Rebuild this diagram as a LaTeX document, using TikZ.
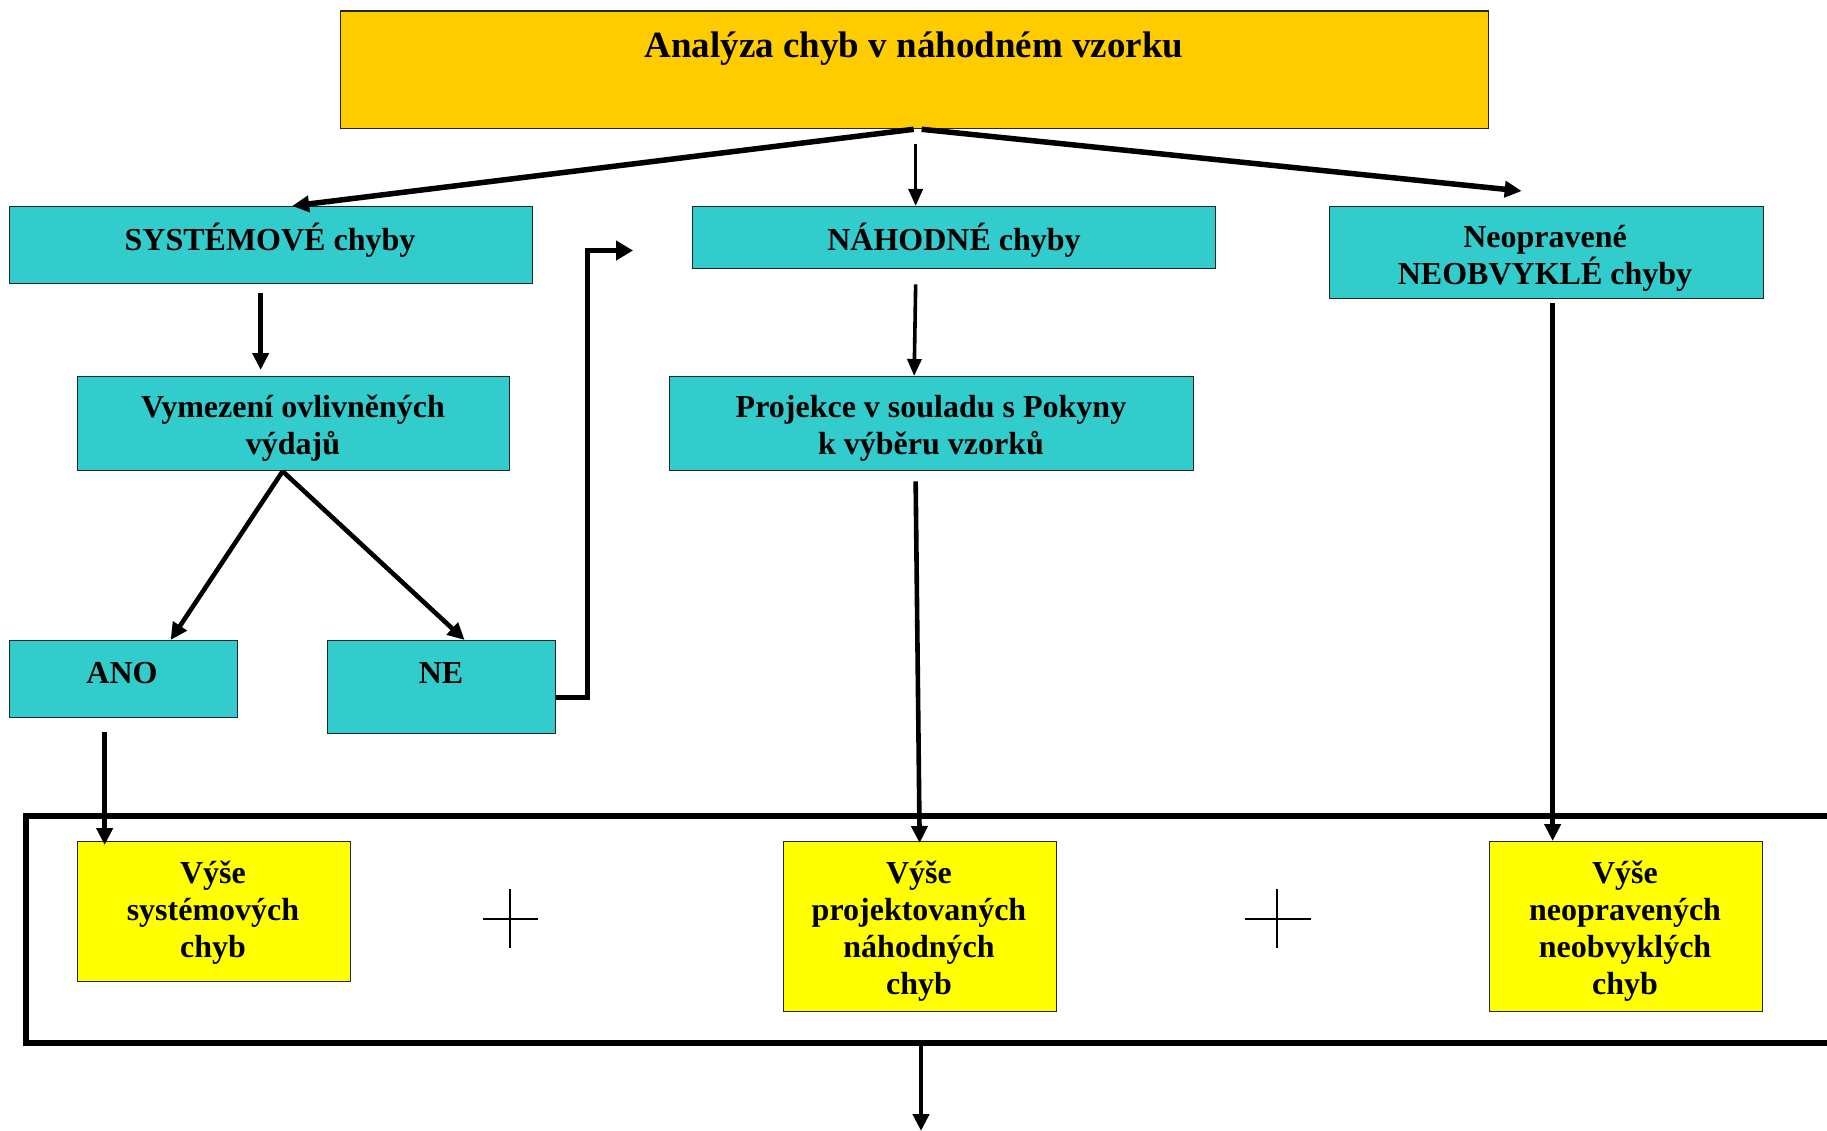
\documentclass[tikz,border=0pt]{standalone}
\usepackage{fontspec}
\setmainfont{Liberation Serif}
\usetikzlibrary{arrows.meta}
\definecolor{boxteal}{HTML}{33CCCC}
\definecolor{topgold}{HTML}{FFCC00}
\definecolor{ybox}{HTML}{FFFF00}
\begin{document}
\begin{tikzpicture}[x=1pt,y=-1pt,
  box/.style={draw=black!85, line width=1.3pt, inner sep=0pt, anchor=north west},
  tbox/.style={box, fill=boxteal},
  ylbox/.style={box, fill=ybox},
  lbl/.style={inner sep=0pt, align=center, font=\fontsize{32}{37}\bfseries\selectfont},
  arr/.style={line width=4.6pt, -{Triangle[length=17pt,width=16pt]}},
  arrthin/.style={line width=3.6pt, -{Triangle[length=17pt,width=14pt]}},
  plus/.style={line width=1.5pt}]
\useasboundingbox (0,0) rectangle (1827,1131);
\fill[white] (0,0) rectangle (1827,1131);

% boxes
\node[box, fill=topgold, minimum width=1148pt, minimum height=117.5pt] (top) at (340,10.5) {};
\node[tbox, minimum width=523pt, minimum height=77pt] (sys) at (9,206) {};
\node[tbox, minimum width=523pt, minimum height=62pt] (nah) at (692,206) {};
\node[tbox, minimum width=434pt, minimum height=92pt] (neo) at (1329,206) {};
\node[tbox, minimum width=432pt, minimum height=94pt] (vym) at (77,376) {};
\node[tbox, minimum width=524pt, minimum height=94pt] (proj) at (669,376) {};
\node[tbox, minimum width=228pt, minimum height=77pt] (ano) at (9,640) {};
\node[tbox, minimum width=228pt, minimum height=93pt] (ne) at (327,640) {};
\node[ylbox, minimum width=273pt, minimum height=140pt] (y1) at (77,841) {};
\node[ylbox, minimum width=273pt, minimum height=170pt] (y2) at (783,841) {};
\node[ylbox, minimum width=273pt, minimum height=170pt] (y3) at (1489,841) {};

% texts
\node[lbl, font=\fontsize{37}{42}\bfseries\selectfont] (topt) at (914,49) {Analýza chyb v náhodném vzorku};
\node[lbl] (syst) at (270,240.5) {SYSTÉMOVÉ chyby};
\node[lbl] (naht) at (954,240.5) {NÁHODNÉ chyby};
\node[lbl] (neot) at (1545,258.5) {Neopravené\\NEOBVYKLÉ chyby};
\node[lbl] (vymt) at (293,428.5) {Vymezení ovlivněných\\výdajů};
\node[lbl] (projt) at (931,428.5) {Projekce v souladu s Pokyny\\k výběru vzorků};
\node[lbl] (anot) at (122,673.5) {ANO};
\node[lbl] (net) at (441,673.5) {NE};
\node[lbl] (y1t) at (213,912.5) {Výše\\systémových\\chyb};
\node[lbl] (y2t) at (919,931) {Výše\\projektovaných\\náhodných\\chyb};
\node[lbl] (y3t) at (1625,931) {Výše\\neopravených\\neobvyklých\\chyb};

% frame
\draw[line width=5.5pt] (1835,816) -- (26,816) -- (26,1043) -- (1835,1043);
\coordinate (fb) at (921,1043);
\coordinate (fend) at (921,1131);
\coordinate (neend) at (633,250.5);

% plus signs
\draw[plus] (483,919) -- (538,919) (510,889) -- (510,948);
\draw[plus] (1245,919) -- (1311,919) (1277,889) -- (1277,948);

% connectors
\draw[arr, line width=5.5pt] ([xshift=-1pt]top.south) -- ([xshift=21pt]sys.north);
\draw[arr, line width=5.5pt] ([xshift=7pt]top.south) -- ([xshift=-25pt,yshift=15pt]neo.north);
\draw[arrthin] ([xshift=1pt,yshift=-15pt]top.south) -- ([xshift=-38.5pt]nah.north);
\draw[arr] ([xshift=-10.5pt,yshift=-9pt]sys.south) -- ([xshift=-33pt,yshift=6pt]vym.north);
\draw[arr] ([xshift=-11pt]vym.south) -- ([xshift=47pt]ano.north);
\draw[arr] ([xshift=-11pt]vym.south) -- ([xshift=23pt]ne.north);
\draw[arr, -{Triangle[length=17pt,width=19pt]}] ([yshift=-10.5pt]ne.east) -- ++(31,0) |- (neend);
\draw[arrthin] ([xshift=-38.5pt,yshift=-15pt]nah.south) -- ([xshift=-17.5pt]proj.north);
\draw[arr] ([xshift=-16pt,yshift=-10pt]proj.south) -- ([xshift=-0.5pt,yshift=-2pt]y2.north);
\draw[arr] ([xshift=6pt,yshift=-4pt]neo.south) -- ([xshift=-73.5pt]y3.north);
\draw[arr] ([xshift=-19pt,yshift=-14pt]ano.south) -- ([xshift=-109.5pt,yshift=-4pt]y1.north);
\draw[arr] (fb) -- (fend);
\end{tikzpicture}
\end{document}
